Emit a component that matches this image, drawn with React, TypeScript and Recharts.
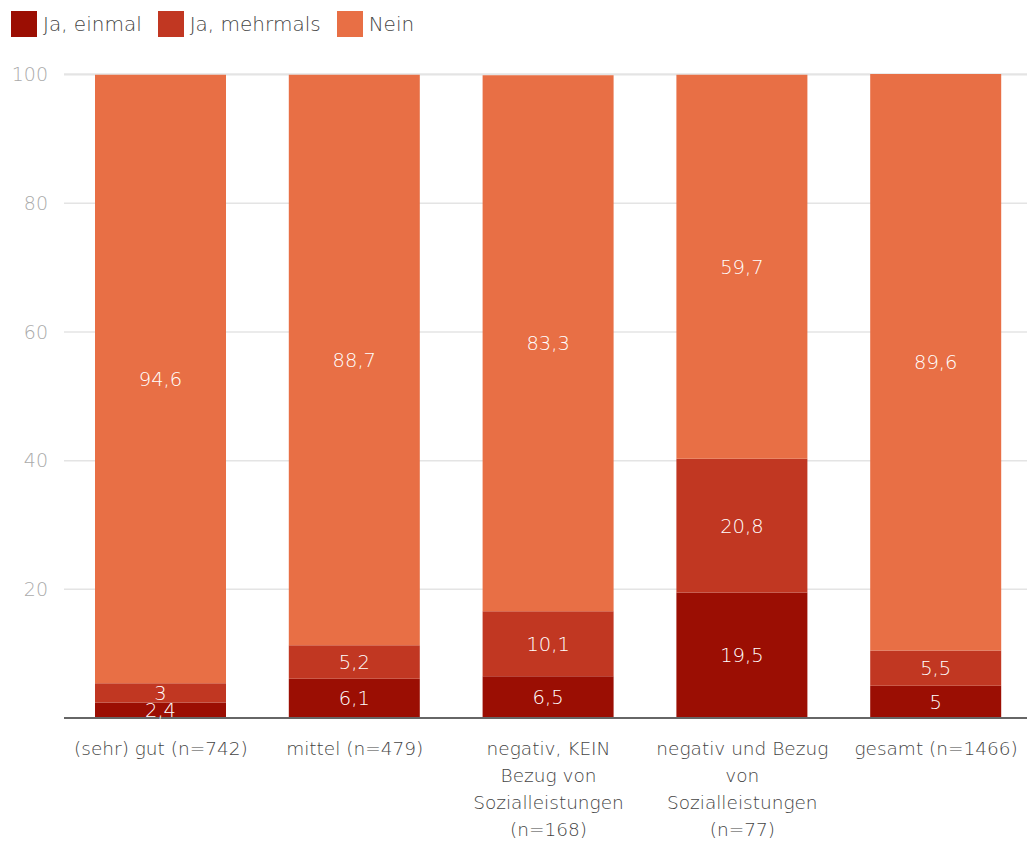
import React from "react";
import { BarChart, Bar, XAxis, YAxis, CartesianGrid, LabelList } from "recharts";

const categories = [
  "(sehr) gut (n=742)",
  "mittel (n=479)",
  "negativ, KEIN\nBezug von\nSozialleistungen\n(n=168)",
  "negativ und Bezug\nvon\nSozialleistungen\n(n=77)",
  "gesamt (n=1466)",
];
const jaEinmal = [2.4, 6.1, 6.5, 19.5, 5];
const jaMehrmals = [3, 5.2, 10.1, 20.8, 5.5];
const nein = [94.6, 88.7, 83.3, 59.7, 89.6];
const yTicks = [20, 40, 60, 80, 100];

const seriesNames = ["Ja, einmal", "Ja, mehrmals", "Nein"];
const colors = ["#9b0e03", "#c13722", "#e86f45"];

const data = categories.map((c, i) => ({
  cat: c,
  a: jaEinmal[i],
  b: jaMehrmals[i],
  c: nein[i],
}));

const FONT = "'DejaVu Sans', sans-serif";

const fmt = (v: any) => String(v).replace(".", ",");

const XTick = (props: any) => {
  const { x, y, payload } = props;
  const lines = String(payload.value).split("\n");
  return (
    <g>
      {lines.map((l: string, i: number) => (
        <text
          key={i}
          x={x}
          y={y + 29 + i * 27}
          textAnchor="middle"
          fill="#444"
          fontSize={18.5}
          fontFamily={FONT}
          fontWeight={200}
        >
          {l}
        </text>
      ))}
    </g>
  );
};

export default function App() {
  const keys = ["a", "b", "c"];
  return (
    <div style={{ position: "absolute", left: 0, top: 0, width: 1027, height: 841, background: "#fff" }}>
      <div
        style={{
          position: "absolute",
          left: 11,
          top: 11,
          display: "flex",
          alignItems: "center",
          fontFamily: FONT,
          fontSize: 20,
          color: "#444",
          fontWeight: 200,
          lineHeight: "26px",
          zIndex: 2,
        }}
      >
        {seriesNames.map((n, i) => (
          <div key={n} style={{ display: "flex", alignItems: "center", marginRight: 16 }}>
            <div style={{ width: 26, height: 26, background: colors[i], marginRight: 6 }} />
            <span>{n}</span>
          </div>
        ))}
      </div>
      <BarChart
        width={1027}
        height={841}
        data={data}
        margin={{ top: 74, right: 0, bottom: 0, left: 0 }}
        barSize={131}
      >
        <CartesianGrid vertical={false} stroke="#e4e4e4" strokeWidth={1.5} />
        <XAxis
          dataKey="cat"
          height={123}
          tickLine={false}
          axisLine={{ stroke: "#666", strokeWidth: 2 }}
          tick={<XTick />}
          interval={0}
          padding={{ left: 0, right: -6 }}
        />
        <YAxis
          width={64}
          domain={[0, 100]}
          ticks={yTicks}
          axisLine={false}
          tickLine={false}
          tickSize={0}
          tickMargin={16}
          tick={{ fill: "#aaa", fontSize: 19, fontFamily: FONT, fontWeight: 200 }}
        />
        {keys.map((k, i) => (
          <Bar key={k} dataKey={k} name={seriesNames[i]} stackId="s" fill={colors[i]} isAnimationActive={false}>
            <LabelList
              dataKey={k}
              position="center"
              formatter={fmt}
              fill="#fff"
              fontSize={19.5}
              fontFamily={FONT}
              fontWeight={200}
            />
          </Bar>
        ))}
      </BarChart>
    </div>
  );
}
